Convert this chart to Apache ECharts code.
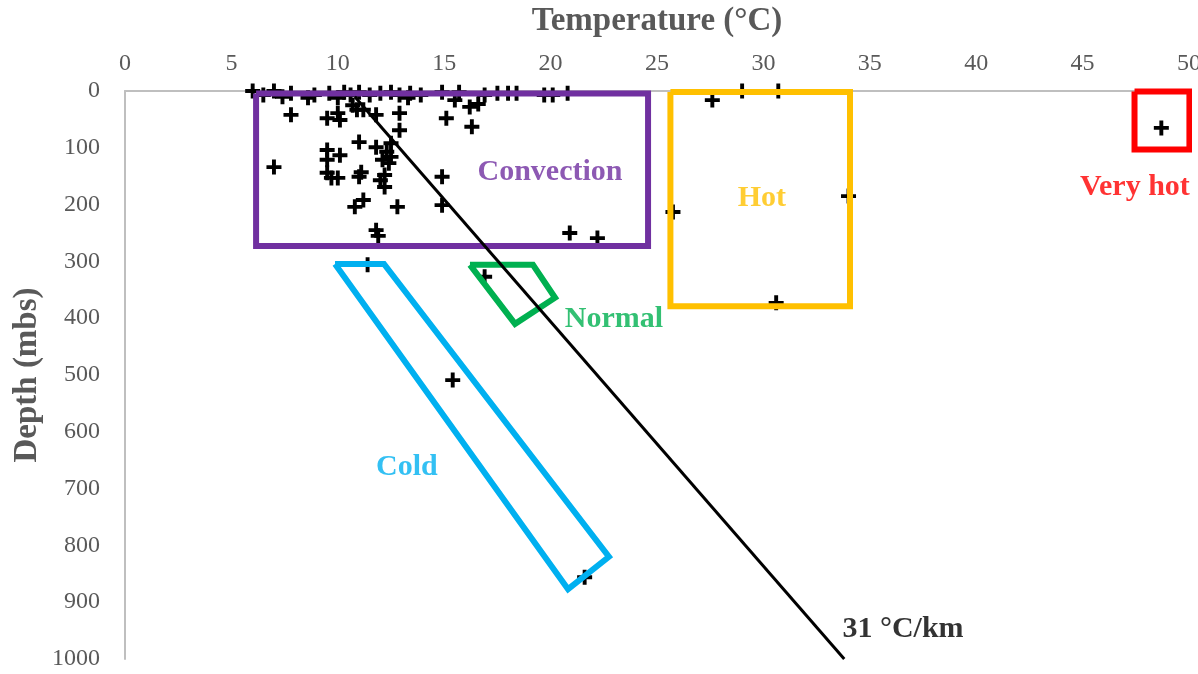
<!DOCTYPE html>
<html><head><meta charset="utf-8">
<script src="https://cdn.jsdelivr.net/npm/echarts@6/dist/echarts.min.js"></script>
<style>html,body{margin:0;padding:0;background:#fff}#c{width:1198px;height:674px}</style>
</head><body><div id="c"></div>
<script>
// Temperature (°C) and depth (mbs) of each measurement
const tempC = [
  6.0,6.5,7.0,7.4,7.8,8.6,8.9,9.6,10.0,10.3,10.6,11.0,11.5,12.0,12.5,12.9,13.4,13.9,14.9,15.7,16.9,17.5,18.0,18.4,19.7,20.1,20.8,
  15.5,16.6,16.2,13.3,7.8,9.5,10.1,10.0,10.7,10.9,11.2,11.8,12.9,11.0,11.8,12.3,12.5,12.9,9.5,9.5,10.1,12.1,7.0,9.5,11.1,12.2,12.5,12.4,
  9.7,10.0,11.0,12.0,12.2,11.2,10.8,12.8,14.9,14.9,11.8,11.9,15.1,16.3,20.9,22.2,11.4,16.9,15.4,21.6,
  27.6,29.0,30.7,34.0,25.75,30.6,48.7
];
const depthM = [
  0,7,0,10,4,12,7,4,12,2,7,2,7,4,2,7,4,7,2,2,7,4,4,4,7,7,4,
  16,23,28,12,42,48,51,39,25,33,33,42,39,90,99,107,92,69,104,121,113,121,134,144,143,148,116,127,
  153,153,151,157,169,192,204,204,151,201,245,255,48,63,250,259,306,327,509,856,
  16,0,0,185,213,373,65
];
// Reference gradient line (temperature, depth)
const gradT = [10.8, 33.8];
const gradD = [10, 1000];
// Zone outlines (temperature, depth vertices)
const zones = [
  {name:'Convection', t:[6.16,24.58,24.58,6.16], d:[4.4,4.4,273,273]},
  {name:'Hot',        t:[25.63,34.07,34.07,25.63], d:[1.8,1.8,379,379]},
  {name:'Very hot',   t:[47.44,50.02,50.02,47.44], d:[0.9,0.9,103,103]},
  {name:'Normal',     t:[16.21,19.17,20.21,18.33], d:[306,306,364,410]},
  {name:'Cold',       t:[9.87,12.17,22.74,20.82], d:[304.6,304.6,820,877]}
];
// Annotation labels (text, temperature, depth)
const labelText = ['Convection','Hot','Very hot','Normal','Cold','31 °C/km'];
const labelT = [19.97, 29.93, 47.46, 22.98, 13.25, 36.56];
const labelD = [142.6, 188, 169, 401, 662, 947];
const xTickVals = [0,5,10,15,20,25,30,35,40,45,50];
const yTickVals = [0,100,200,300,400,500,600,700,800,900,1000];

const zoneColors = {'Convection':'#7030A0','Hot':'#FFC000','Very hot':'#FF0000','Normal':'#00B050','Cold':'#00B0F0'};
const labelColors = ['#7030A0','#FFC000','#FF0000','#00B050','#00B0F0','#000000'];
const serif = "'Liberation Serif','Times New Roman',serif";
const cross = 'path://M3.7,0H6.3V3.7H10V6.3H6.3V10H3.7V6.3H0V3.7H3.7Z';

const series = [];
series.push({
  type:'scatter', name:'data', clip:false, z:2,
  symbol: cross, symbolSize: 15,
  itemStyle:{color:'#000', opacity:1},
  data: tempC.map((t,i)=>[t, depthM[i]])
});
zones.forEach(z=>{
  const pts = z.t.map((t,i)=>[t, z.d[i]]);
  pts.push(pts[0]);
  series.push({
    type:'line', name:z.name, clip:false, z:3, symbol:'none', silent:true,
    lineStyle:{color:zoneColors[z.name], width:6, join:'miter'},
    data: pts
  });
});
series.push({
  type:'line', name:'gradient', clip:false, z:4, symbol:'none',
  lineStyle:{color:'#000', width:3},
  data: gradT.map((t,i)=>[t, gradD[i]])
});
series.push({
  type:'scatter', name:'labels', clip:false, z:5, symbolSize:0, silent:true,
  data: labelText.map((s,i)=>({
    value:[labelT[i], labelD[i]], name:s,
    label:{show:true, position:'inside', formatter:s, color:labelColors[i],
      fontFamily:serif, fontWeight:'bold', fontSize:30}
  }))
});

const chart = echarts.init(document.getElementById('c'));
chart.setOption({
  animation:false,
  grid:{left:125, right:9, top:91, bottom:15, containLabel:false, outerBoundsMode:'none'},
  xAxis:{
    type:'value', position:'top', min:0, max:50, interval:5,
    name:'Temperature (°C)', nameLocation:'middle', nameGap:53,
    nameTextStyle:{color:'#595959', fontFamily:serif, fontWeight:'bold', fontSize:33},
    axisLine:{show:true, lineStyle:{color:'#BFBFBF', width:2}},
    axisTick:{show:false}, splitLine:{show:false},
    axisLabel:{color:'#595959', fontFamily:serif, fontSize:24, margin:15,
      formatter:v=> xTickVals.includes(v)? String(v):''}
  },
  yAxis:{
    type:'value', inverse:true, min:0, max:1000, interval:100,
    name:'Depth (mbs)', nameLocation:'middle', nameGap:81, nameMoveOverlap:false,
    nameTextStyle:{color:'#595959', fontFamily:serif, fontWeight:'bold', fontSize:33},
    axisLine:{show:true, lineStyle:{color:'#BFBFBF', width:2}},
    axisTick:{show:false}, splitLine:{show:false},
    axisLabel:{color:'#595959', fontFamily:serif, fontSize:24, margin:25,
      formatter:v=> yTickVals.includes(v)? String(v):''}
  },
  series: series
});
</script></body></html>
